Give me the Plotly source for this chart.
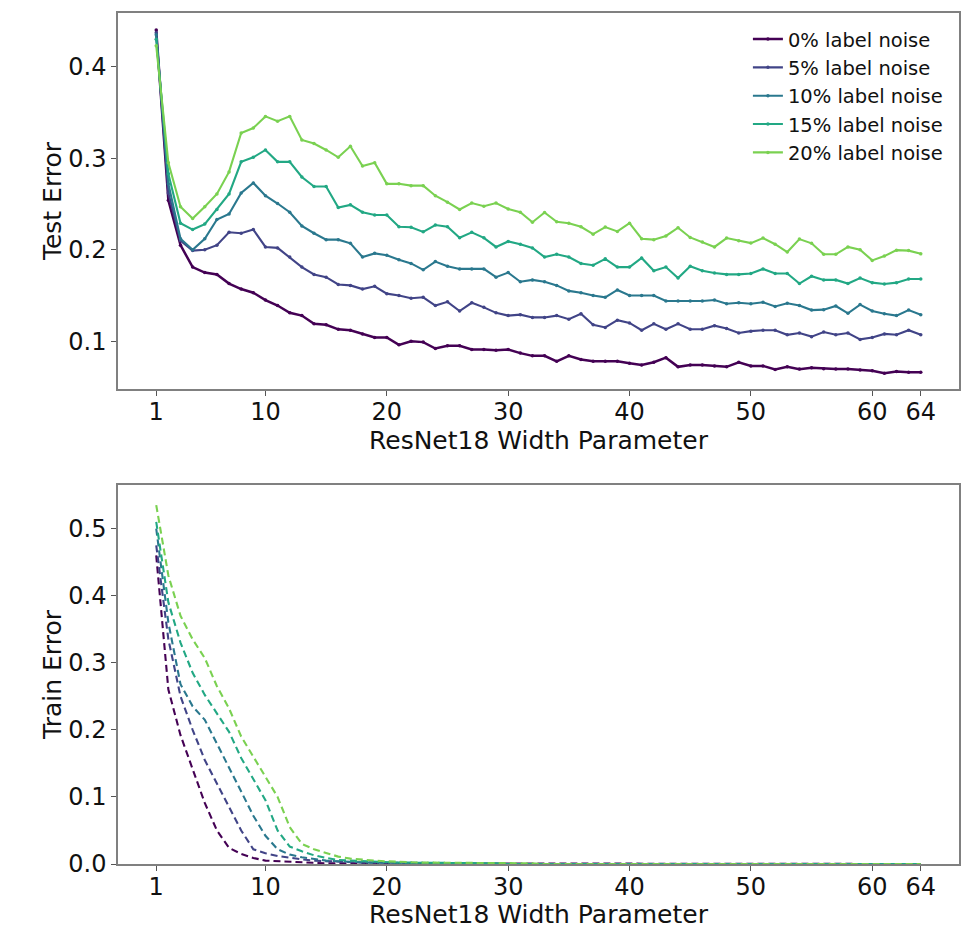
import plotly.graph_objects as go
from plotly.subplots import make_subplots

widths = list(range(1, 65))
labels = ["0% label noise", "5% label noise", "10% label noise", "15% label noise", "20% label noise"]
colors = ["#440154", "#414487", "#2a788e", "#22a884", "#7ad151"]
x_title = "ResNet18 Width Parameter"

test_0 = [0.440, 0.254, 0.205, 0.181, 0.175, 0.173, 0.163, 0.157, 0.153, 0.145,
          0.139, 0.131, 0.128, 0.119, 0.118, 0.113, 0.112, 0.108, 0.104, 0.104,
          0.096, 0.100, 0.099, 0.092, 0.095, 0.095, 0.091, 0.091, 0.090, 0.091,
          0.087, 0.084, 0.084, 0.078, 0.084, 0.080, 0.078, 0.078, 0.078, 0.076,
          0.074, 0.077, 0.082, 0.072, 0.074, 0.074, 0.073, 0.072, 0.077, 0.073,
          0.073, 0.069, 0.072, 0.0695, 0.071, 0.070, 0.0695, 0.0695, 0.0685, 0.0676,
          0.065, 0.067, 0.066, 0.066]
test_5 = [0.437, 0.262, 0.210, 0.199, 0.200, 0.205, 0.219, 0.218, 0.222, 0.203,
          0.202, 0.192, 0.181, 0.173, 0.170, 0.162, 0.161, 0.157, 0.160, 0.152,
          0.150, 0.147, 0.148, 0.139, 0.143, 0.133, 0.142, 0.137, 0.131, 0.128,
          0.129, 0.126, 0.126, 0.128, 0.124, 0.130, 0.118, 0.115, 0.123, 0.120,
          0.112, 0.119, 0.113, 0.119, 0.113, 0.113, 0.117, 0.114, 0.109, 0.111,
          0.112, 0.112, 0.107, 0.109, 0.105, 0.110, 0.107, 0.109, 0.102, 0.104,
          0.108, 0.107, 0.112, 0.107]
test_10 = [0.435, 0.272, 0.212, 0.200, 0.212, 0.233, 0.239, 0.262, 0.273, 0.259,
           0.2505, 0.241, 0.226, 0.218, 0.211, 0.211, 0.207, 0.192, 0.196, 0.194,
           0.189, 0.185, 0.178, 0.187, 0.182, 0.179, 0.179, 0.179, 0.170, 0.175,
           0.165, 0.167, 0.165, 0.161, 0.155, 0.153, 0.150, 0.148, 0.156, 0.150,
           0.150, 0.150, 0.144, 0.144, 0.144, 0.144, 0.145, 0.141, 0.142, 0.141,
           0.1425, 0.138, 0.1415, 0.139, 0.134, 0.1345, 0.1385, 0.1305, 0.140, 0.133,
           0.130, 0.128, 0.134, 0.129]
test_15 = [0.430, 0.283, 0.229, 0.222, 0.228, 0.244, 0.261, 0.296, 0.301, 0.309,
           0.296, 0.296, 0.2795, 0.269, 0.269, 0.246, 0.249, 0.241, 0.238, 0.238,
           0.225, 0.2245, 0.2195, 0.227, 0.225, 0.213, 0.219, 0.213, 0.203, 0.209,
           0.206, 0.202, 0.192, 0.195, 0.192, 0.185, 0.183, 0.190, 0.181, 0.181,
           0.191, 0.177, 0.181, 0.169, 0.182, 0.177, 0.1745, 0.173, 0.173, 0.174,
           0.179, 0.174, 0.174, 0.163, 0.171, 0.167, 0.167, 0.163, 0.169, 0.164,
           0.1625, 0.164, 0.168, 0.168]
test_20 = [0.423, 0.295, 0.247, 0.234, 0.247, 0.261, 0.285, 0.3275, 0.333, 0.3457,
           0.3405, 0.3457, 0.320, 0.316, 0.309, 0.301, 0.313, 0.2915, 0.295, 0.272,
           0.272, 0.270, 0.270, 0.259, 0.252, 0.244, 0.251, 0.2475, 0.251, 0.2446,
           0.241, 0.230, 0.2407, 0.2305, 0.229, 0.225, 0.217, 0.2247, 0.220, 0.229,
           0.212, 0.211, 0.215, 0.224, 0.2134, 0.2083, 0.203, 0.2127, 0.2097, 0.2072,
           0.2127, 0.206, 0.1974, 0.2116, 0.207, 0.195, 0.195, 0.203, 0.200, 0.1883,
           0.193, 0.1995, 0.199, 0.1955]

train_0 = [0.460, 0.260, 0.192, 0.140, 0.091, 0.050, 0.024, 0.015, 0.009, 0.005,
           0.004, 0.003, 0.002, 0.002, 0.001, 0.001, 0.001, 0.001, 0.001, 0.001,
           0.001, 0.0, 0.0, 0.0, 0.0, 0.0, 0.0, 0.0, 0.0, 0.0,
           0.0, 0.0, 0.0, 0.0, 0.0, 0.0, 0.0, 0.0, 0.0, 0.0,
           0.0, 0.0, 0.0, 0.0, 0.0, 0.0, 0.0, 0.0, 0.0, 0.0,
           0.0, 0.0, 0.0, 0.0, 0.0, 0.0, 0.0, 0.0, 0.0, 0.0,
           0.0, 0.0, 0.0, 0.0]
train_5 = [0.475, 0.335, 0.250, 0.200, 0.155, 0.120, 0.085, 0.050, 0.022, 0.016,
           0.012, 0.009, 0.007, 0.005, 0.004, 0.003, 0.003, 0.002, 0.002, 0.002,
           0.001, 0.001, 0.001, 0.001, 0.001, 0.0, 0.0, 0.0, 0.0, 0.0,
           0.0, 0.0, 0.0, 0.0, 0.0, 0.0, 0.0, 0.0, 0.0, 0.0,
           0.0, 0.0, 0.0, 0.0, 0.0, 0.0, 0.0, 0.0, 0.0, 0.0,
           0.0, 0.0, 0.0, 0.0, 0.0, 0.0, 0.0, 0.0, 0.0, 0.0,
           0.0, 0.0, 0.0, 0.0]
train_10 = [0.500, 0.360, 0.268, 0.235, 0.215, 0.180, 0.145, 0.108, 0.072, 0.042,
            0.022, 0.014, 0.010, 0.007, 0.005, 0.004, 0.003, 0.003, 0.002, 0.002,
            0.002, 0.001, 0.001, 0.001, 0.001, 0.001, 0.001, 0.0, 0.0, 0.0,
            0.0, 0.0, 0.0, 0.0, 0.0, 0.0, 0.0, 0.0, 0.0, 0.0,
            0.0, 0.0, 0.0, 0.0, 0.0, 0.0, 0.0, 0.0, 0.0, 0.0,
            0.0, 0.0, 0.0, 0.0, 0.0, 0.0, 0.0, 0.0, 0.0, 0.0,
            0.0, 0.0, 0.0, 0.0]
train_15 = [0.510, 0.390, 0.330, 0.285, 0.252, 0.225, 0.197, 0.158, 0.127, 0.095,
            0.050, 0.026, 0.019, 0.013, 0.009, 0.006, 0.005, 0.004, 0.003, 0.003,
            0.002, 0.002, 0.002, 0.001, 0.001, 0.001, 0.001, 0.001, 0.001, 0.0,
            0.0, 0.0, 0.0, 0.0, 0.0, 0.0, 0.0, 0.0, 0.0, 0.0,
            0.0, 0.0, 0.0, 0.0, 0.0, 0.0, 0.0, 0.0, 0.0, 0.0,
            0.0, 0.0, 0.0, 0.0, 0.0, 0.0, 0.0, 0.0, 0.0, 0.0,
            0.0, 0.0, 0.0, 0.0]
train_20 = [0.535, 0.430, 0.370, 0.335, 0.307, 0.265, 0.232, 0.190, 0.160, 0.130,
            0.100, 0.055, 0.030, 0.022, 0.016, 0.011, 0.008, 0.006, 0.005, 0.004,
            0.003, 0.003, 0.002, 0.002, 0.002, 0.001, 0.001, 0.001, 0.001, 0.001,
            0.001, 0.001, 0.0, 0.0, 0.0, 0.0, 0.0, 0.0, 0.0, 0.0,
            0.0, 0.0, 0.0, 0.0, 0.0, 0.0, 0.0, 0.0, 0.0, 0.0,
            0.0, 0.0, 0.0, 0.0, 0.0, 0.0, 0.0, 0.0, 0.0, 0.0,
            0.0, 0.0, 0.0, 0.0]

test_series = [test_0, test_5, test_10, test_15, test_20]
train_series = [train_0, train_5, train_10, train_15, train_20]
x_ticks = [1, 10, 20, 30, 40, 50, 60, 64]

FONT = "DejaVu Sans"
TXT = "#111111"
fig = make_subplots(rows=2, cols=1, vertical_spacing=0.1128,
                    row_heights=[0.4418, 0.4454])
for i, (lab, col, ys) in enumerate(zip(labels, colors, test_series)):
    fig.add_trace(go.Scatter(x=widths, y=ys, mode="lines+markers", name=lab,
                             legendgroup=lab,
                             line=dict(color=col, width=2.5 if i == 0 else 2.1),
                             marker=dict(color=col, size=3.5)), row=1, col=1)
for i, (lab, col, ys) in enumerate(zip(labels, colors, train_series)):
    fig.add_trace(go.Scatter(x=widths, y=ys, mode="lines", name=lab,
                             legendgroup=lab, showlegend=False,
                             line=dict(color=col, width=2.1, dash="7px,4px")), row=2, col=1)

axis_common = dict(showgrid=False, zeroline=False, showline=True, mirror=True,
                   linecolor="#808080", linewidth=1.5, ticks="outside", ticklen=5,
                   tickwidth=1.2, tickcolor="#555555", automargin=False,
                   tickfont=dict(family=FONT, size=24, color=TXT))
for r in (1, 2):
    fig.update_xaxes(range=[-2.15, 67.15], tickvals=x_ticks, ticktext=[str(v) for v in x_ticks],
                     ticklabelstandoff=-5, row=r, col=1, **axis_common)
fig.update_yaxes(range=[0.0478, 0.4587], tickvals=[0.1, 0.2, 0.3, 0.4], tickformat=".1f",
                 title=dict(text="Test Error", standoff=0,
                            font=dict(family=FONT, size=25, color=TXT)),
                 row=1, col=1, **axis_common)
fig.update_yaxes(range=[0, 0.565], tickvals=[0.0, 0.1, 0.2, 0.3, 0.4, 0.5], tickformat=".1f",
                 title=dict(text="Train Error", standoff=0,
                            font=dict(family=FONT, size=25, color=TXT)),
                 row=2, col=1, **axis_common)

# x-axis titles placed as annotations under each panel
for yp in (0.4982, -0.0599):
    fig.add_annotation(text=x_title, xref="paper", yref="paper", x=0.5, y=yp,
                       xanchor="center", yanchor="middle", showarrow=False,
                       font=dict(family=FONT, size=25, color=TXT))

fig.update_layout(
    width=971, height=931,
    margin=dict(l=118, r=12, t=13, b=67),
    paper_bgcolor="white", plot_bgcolor="white",
    xaxis=dict(domain=[0, 1]), yaxis=dict(domain=[0.5582, 1.0]),
    xaxis2=dict(domain=[0, 1]), yaxis2=dict(domain=[0.0, 0.4454]),
    legend=dict(x=0.749, y=0.992, xanchor="left", yanchor="top",
                bgcolor="rgba(0,0,0,0)", borderwidth=0,
                traceorder="grouped", tracegroupgap=0,
                font=dict(family=FONT, size=19.5, color=TXT)),
    showlegend=True,
)
fig.write_html("out.html")
